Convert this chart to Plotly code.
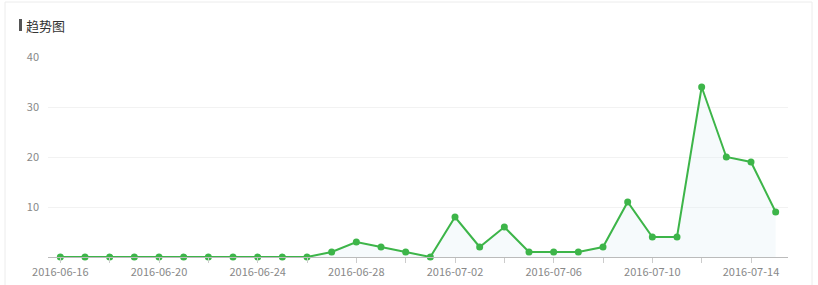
import plotly.graph_objects as go

dates = ["2016-06-16", "2016-06-17", "2016-06-18", "2016-06-19", "2016-06-20",
         "2016-06-21", "2016-06-22", "2016-06-23", "2016-06-24", "2016-06-25",
         "2016-06-26", "2016-06-27", "2016-06-28", "2016-06-29", "2016-06-30",
         "2016-07-01", "2016-07-02", "2016-07-03", "2016-07-04", "2016-07-05",
         "2016-07-06", "2016-07-07", "2016-07-08", "2016-07-09", "2016-07-10",
         "2016-07-11", "2016-07-12", "2016-07-13", "2016-07-14", "2016-07-15"]
values = [0, 0, 0, 0, 0, 0, 0, 0, 0, 0,
          0, 1, 3, 2, 1, 0, 8, 2, 6, 1,
          1, 1, 2, 11, 4, 4, 34, 20, 19, 9]
y_ticks = [10, 20, 30, 40]
title_text = "趋势图"

W, H = 818, 285
L, R, T, B = 48, 30, 57, 28
pw, ph = W - L - R, H - T - B

def px(x):
    return (x - L) / pw

def py(y):
    return (H - B - y) / ph

tick_vals = dates[::2]
tick_text = [d if i % 4 == 0 else "" for i, d in enumerate(dates)][::2]

fig = go.Figure()
fig.add_trace(go.Scatter(
    x=dates, y=values, mode="lines+markers",
    line=dict(color="#3db549", width=2),
    marker=dict(color="#3db549", size=7),
    fill="tozeroy", fillcolor="rgba(228,240,246,0.35)",
    cliponaxis=False, hoverinfo="x+y",
))

fig.update_layout(
    width=W, height=H,
    margin=dict(l=L, r=R, t=T, b=B),
    paper_bgcolor="white", plot_bgcolor="white",
    showlegend=False,
    font=dict(family="Noto Sans CJK SC, Noto Sans, sans-serif", size=11, color="#888"),
    xaxis=dict(
        type="category", range=[-0.5, len(dates) - 0.5],
        tickmode="array", tickvals=tick_vals, ticktext=tick_text,
        ticks="outside", ticklen=5, tickcolor="#ccc",
        showline=True, linecolor="#bbb", linewidth=1,
        showgrid=False, zeroline=False, automargin=False,
        tickfont=dict(size=11, color="#888"),
    ),
    yaxis=dict(
        range=[0, 40], tickmode="array", tickvals=y_ticks,
        showgrid=True, gridcolor="#f2f2f2", gridwidth=1,
        zeroline=False, showline=False, ticks="", automargin=False,
        ticklabelstandoff=8,
        tickfont=dict(size=11, color="#888"),
    ),
    shapes=[
        dict(type="rect", xref="paper", yref="paper",
             x0=px(5), x1=px(812), y0=py(300), y1=py(2),
             line=dict(color="#ececec", width=1), fillcolor="rgba(0,0,0,0)", layer="below"),
        dict(type="rect", xref="paper", yref="paper",
             x0=px(19), x1=px(22), y0=py(31), y1=py(19),
             line=dict(width=0), fillcolor="#555"),
    ],
    annotations=[
        dict(text=title_text, xref="paper", yref="paper",
             x=px(24), y=py(25), xanchor="left", yanchor="middle",
             showarrow=False, font=dict(size=13, color="#333",
                                        family="Noto Sans CJK SC, sans-serif")),
    ],
)

fig.write_html("out.html")
